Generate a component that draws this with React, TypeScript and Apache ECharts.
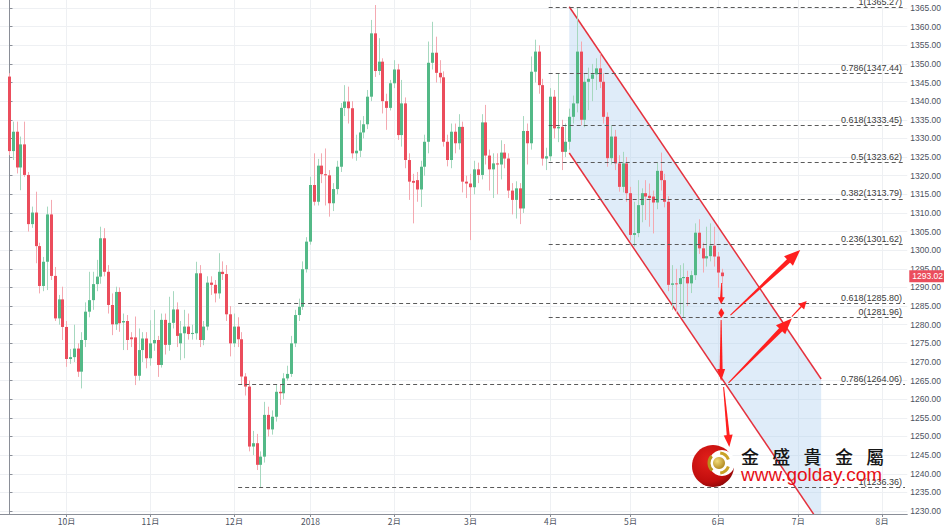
import React, { useEffect, useRef } from "react";
import * as echarts from "echarts";

// Daily XAUUSD candles [open, close, low, high], index 0 = 2017-09-11, last = 2018-06-04
const candles: number[][] = [
  [1346.6, 1326.6, 1325.5, 1347.5], [1326.6, 1331.8, 1324.2, 1334.5], [1331.8, 1322.2, 1320.6, 1334.5], [1322.2, 1328.4, 1316.1, 1330.5],
  [1328.4, 1320.2, 1319.7, 1334.5], [1320.2, 1307.0, 1305.0, 1321.0], [1307.0, 1310.1, 1306.0, 1311.7], [1310.1, 1301.1, 1296.5, 1315.7],
  [1301.1, 1290.4, 1288.4, 1302.0], [1290.4, 1296.9, 1289.0, 1298.2], [1296.9, 1309.6, 1289.3, 1311.7], [1309.6, 1293.1, 1292.0, 1313.5],
  [1293.1, 1281.7, 1281.0, 1295.5], [1281.7, 1286.8, 1280.0, 1288.0], [1286.8, 1279.4, 1275.9, 1290.2], [1279.4, 1270.8, 1268.7, 1281.0],
  [1270.8, 1271.3, 1269.5, 1273.5], [1271.3, 1273.6, 1270.0, 1280.0], [1273.6, 1267.4, 1266.0, 1275.0], [1267.4, 1275.9, 1262.9, 1278.0],
  [1275.9, 1283.5, 1274.0, 1286.0], [1283.5, 1286.6, 1282.0, 1294.2], [1286.6, 1290.9, 1284.0, 1294.2], [1290.9, 1292.9, 1289.0, 1297.4],
  [1292.9, 1303.2, 1291.0, 1306.3], [1303.2, 1294.2, 1293.0, 1305.9], [1294.2, 1285.3, 1283.0, 1296.0], [1285.3, 1280.1, 1277.2, 1288.4],
  [1280.1, 1288.8, 1278.6, 1290.2], [1288.8, 1280.4, 1278.1, 1290.0], [1280.6, 1281.0, 1273.2, 1283.0], [1281.0, 1275.9, 1273.2, 1282.6],
  [1276.6, 1276.1, 1274.0, 1278.0], [1276.6, 1266.3, 1263.8, 1282.2], [1266.3, 1273.2, 1265.0, 1279.0], [1273.2, 1276.3, 1270.0, 1278.0],
  [1276.3, 1271.0, 1268.3, 1278.0], [1271.0, 1275.0, 1269.0, 1281.2], [1275.0, 1275.9, 1273.0, 1284.0], [1275.9, 1269.2, 1266.0, 1277.0],
  [1269.2, 1281.3, 1268.5, 1283.0], [1281.3, 1274.6, 1272.0, 1283.0], [1274.6, 1280.5, 1273.0, 1287.5], [1280.5, 1284.1, 1279.0, 1289.0],
  [1284.1, 1277.0, 1274.0, 1286.0], [1275.0, 1277.7, 1270.5, 1281.0], [1277.7, 1279.5, 1271.0, 1284.0], [1279.5, 1277.5, 1276.0, 1283.0],
  [1277.5, 1277.8, 1276.0, 1280.0], [1277.7, 1293.8, 1276.0, 1296.9], [1293.8, 1275.9, 1274.0, 1296.0], [1275.9, 1279.5, 1274.5, 1281.0],
  [1279.5, 1291.3, 1278.5, 1293.0], [1291.3, 1290.7, 1288.0, 1293.0], [1290.7, 1288.4, 1286.0, 1292.0], [1288.4, 1294.2, 1287.0, 1299.2],
  [1294.2, 1293.6, 1292.0, 1297.0], [1293.6, 1282.8, 1281.0, 1296.0], [1282.8, 1275.0, 1271.5, 1285.0], [1275.0, 1279.5, 1274.0, 1283.0],
  [1279.5, 1276.1, 1274.0, 1282.0], [1276.1, 1266.1, 1263.9, 1278.0], [1266.1, 1263.4, 1261.0, 1267.0], [1263.4, 1247.3, 1246.0, 1265.0],
  [1247.3, 1248.2, 1245.0, 1251.5], [1248.2, 1242.4, 1241.0, 1250.7], [1242.4, 1244.6, 1236.36, 1246.0], [1244.6, 1255.8, 1243.0, 1259.3],
  [1255.8, 1251.9, 1250.0, 1258.0], [1251.9, 1255.3, 1250.5, 1257.0], [1255.3, 1262.0, 1254.0, 1264.0], [1262.0, 1261.6, 1258.5, 1264.0],
  [1261.6, 1265.6, 1260.0, 1267.0], [1265.6, 1266.8, 1265.0, 1269.0], [1266.8, 1275.0, 1266.0, 1277.0], [1275.0, 1282.6, 1274.0, 1284.0],
  [1282.6, 1284.8, 1281.0, 1287.0], [1284.8, 1294.9, 1284.0, 1297.0], [1294.9, 1302.3, 1294.0, 1303.5], [1302.3, 1317.5, 1301.5, 1319.7],
  [1317.5, 1313.0, 1312.0, 1326.0], [1313.0, 1322.7, 1312.0, 1324.5], [1322.7, 1320.4, 1318.0, 1326.0], [1320.4, 1320.1, 1312.0, 1327.3],
  [1320.1, 1312.6, 1309.0, 1321.5], [1312.6, 1316.4, 1310.5, 1318.0], [1316.4, 1322.4, 1315.0, 1324.0], [1322.4, 1338.2, 1321.0, 1339.5],
  [1338.2, 1339.9, 1336.0, 1344.3], [1339.9, 1338.1, 1334.0, 1343.9], [1338.1, 1326.0, 1324.6, 1340.0], [1326.0, 1326.7, 1324.0, 1331.0],
  [1326.7, 1331.6, 1325.0, 1334.9], [1331.6, 1333.8, 1330.0, 1336.0], [1333.8, 1341.2, 1332.5, 1343.0], [1341.2, 1358.2, 1340.0, 1361.8],
  [1358.2, 1348.1, 1346.5, 1365.8], [1348.1, 1350.6, 1347.0, 1356.9], [1350.6, 1340.0, 1336.7, 1351.5], [1340.0, 1338.2, 1332.3, 1342.0],
  [1338.2, 1344.8, 1337.5, 1345.7], [1344.8, 1348.5, 1343.5, 1351.0], [1348.5, 1330.9, 1329.6, 1350.0], [1330.9, 1339.4, 1327.8, 1345.7],
  [1339.4, 1324.2, 1322.0, 1341.0], [1324.2, 1318.4, 1313.5, 1326.0], [1318.6, 1318.1, 1307.2, 1320.5], [1318.8, 1316.3, 1313.0, 1321.0],
  [1316.3, 1322.4, 1311.6, 1324.0], [1322.4, 1329.1, 1320.0, 1331.0], [1329.1, 1350.3, 1326.0, 1356.0], [1350.3, 1353.0, 1348.5, 1361.3],
  [1353.0, 1347.6, 1345.0, 1357.3], [1347.6, 1346.4, 1344.8, 1351.0], [1346.4, 1329.1, 1327.8, 1348.0], [1329.1, 1324.2, 1322.5, 1331.0],
  [1324.2, 1331.8, 1322.0, 1334.0], [1331.8, 1328.7, 1326.0, 1334.0], [1328.7, 1333.1, 1327.0, 1336.5], [1333.1, 1318.4, 1315.5, 1334.5],
  [1318.4, 1317.9, 1314.0, 1320.0], [1317.9, 1316.9, 1302.7, 1320.5], [1316.9, 1321.7, 1315.0, 1324.0], [1321.7, 1320.2, 1318.0, 1323.5],
  [1320.2, 1334.3, 1319.0, 1336.5], [1334.3, 1325.4, 1323.0, 1339.0], [1325.4, 1321.7, 1316.0, 1327.0], [1321.7, 1323.3, 1314.0, 1326.0],
  [1323.3, 1323.0, 1315.0, 1326.0], [1323.0, 1326.2, 1319.0, 1329.5], [1326.2, 1324.6, 1322.0, 1328.5], [1324.6, 1316.0, 1314.0, 1326.0],
  [1316.0, 1313.5, 1309.6, 1318.0], [1313.5, 1316.6, 1308.5, 1318.5], [1316.6, 1311.2, 1307.0, 1318.0], [1311.2, 1332.0, 1310.0, 1336.0],
  [1332.0, 1328.7, 1323.0, 1334.0], [1328.7, 1347.9, 1327.0, 1352.0], [1347.9, 1353.3, 1345.0, 1356.5], [1353.3, 1344.3, 1342.0, 1355.0],
  [1344.3, 1324.6, 1322.7, 1346.0], [1324.6, 1325.2, 1321.5, 1327.5], [1325.2, 1341.2, 1324.0, 1343.5], [1341.2, 1332.7, 1330.0, 1343.0],
  [1332.7, 1333.1, 1329.0, 1347.5], [1333.1, 1326.4, 1321.5, 1335.0], [1326.4, 1329.1, 1325.0, 1334.0], [1329.1, 1335.8, 1327.0, 1338.0],
  [1335.8, 1339.4, 1334.0, 1341.5], [1339.4, 1353.3, 1337.0, 1365.27], [1353.3, 1335.0, 1333.5, 1356.0], [1335.0, 1345.2, 1333.0, 1347.5],
  [1345.2, 1346.0, 1337.6, 1349.0], [1346.0, 1347.2, 1340.0, 1350.0], [1347.2, 1348.8, 1343.0, 1351.5], [1348.8, 1345.2, 1343.5, 1352.8],
  [1345.2, 1335.8, 1334.0, 1347.5], [1335.8, 1324.7, 1322.4, 1337.0], [1324.7, 1330.5, 1323.0, 1333.5], [1330.5, 1323.3, 1321.5, 1332.3],
  [1323.3, 1317.0, 1315.7, 1325.5], [1317.0, 1323.3, 1315.5, 1326.4], [1323.3, 1315.3, 1313.0, 1325.0], [1315.3, 1304.1, 1302.6, 1317.0],
  [1304.1, 1304.6, 1301.0, 1313.0], [1304.6, 1312.1, 1303.5, 1318.8], [1312.1, 1315.3, 1307.5, 1316.6], [1315.3, 1314.4, 1308.1, 1318.8],
  [1314.6, 1314.0, 1306.3, 1317.9], [1314.4, 1312.8, 1304.5, 1316.0], [1312.8, 1321.3, 1311.0, 1323.5], [1321.3, 1318.8, 1316.0, 1326.2],
  [1318.8, 1313.0, 1311.5, 1320.5], [1313.0, 1290.7, 1289.0, 1314.5], [1290.7, 1291.1, 1284.0, 1296.0], [1291.1, 1290.9, 1283.0, 1295.0],
  [1290.9, 1292.5, 1282.8, 1296.0], [1292.5, 1292.8, 1281.96, 1296.5], [1292.8, 1291.1, 1285.0, 1294.5], [1291.1, 1293.3, 1288.5, 1294.5],
  [1293.3, 1304.7, 1292.0, 1307.2], [1304.7, 1300.5, 1299.0, 1308.3], [1300.5, 1297.8, 1294.0, 1302.0], [1297.8, 1298.4, 1295.6, 1306.3],
  [1298.4, 1301.2, 1297.0, 1307.2], [1301.2, 1298.3, 1295.6, 1306.3], [1298.3, 1294.0, 1289.9, 1299.5], [1294.0, 1293.02, 1291.0, 1295.0],
];

// first trading day of each month (candle index) and its label
const monthTickIndex = [15, 37, 59, 79, 101, 121, 142, 163, 186, 207, 229];
const monthLabels = ["10月", "11月", "12月", "2018", "2月", "3月", "4月", "5月", "6月", "7月", "8月"];

const priceTicks = [
  1230, 1235, 1240, 1245, 1250, 1255, 1260, 1265, 1270, 1275, 1280, 1285, 1290, 1295,
  1300, 1305, 1310, 1315, 1320, 1325, 1330, 1335, 1340, 1345, 1350, 1355, 1360, 1365,
];
const lastPrice = 1293.02;

// Fibonacci levels
const fibRatio = [1, 0.786, 0.618, 0.5, 0.382, 0.236, 0.618, 0, 0.786, 1];
const fibPrice = [1365.27, 1347.44, 1333.45, 1323.62, 1313.79, 1301.62, 1285.8, 1281.96, 1264.06, 1236.36];
const fibFrom = [141.5, 141.5, 141.5, 141.5, 141.5, 141.5, 60, 141.5, 60, 60];
const fibTo = 235;

// descending channel (x in candle index, y in price)
const channelX = [146.9, 213.0];
const channelUpper = [1365.35, 1265.43];
const channelLower = [1326.09, 1226.17];

// red arrows
const arrowFrom = [
  [186.9, 1291.2], [186.8, 1283.0], [186.8, 1283.0], [186.75, 1281.3],
  [187.4, 1263.3], [189.2, 1282.6], [188.7, 1264.4], [205.3, 1282.15],
];
const arrowTo = [
  [186.75, 1285.5], [186.8, 1284.5], [186.8, 1281.8], [186.75, 1264.9],
  [188.9, 1247.2], [207.5, 1300.05], [205.3, 1281.7], [209.2, 1286.37],
];

const X_MIN = -2.49;
const X_MAX = 235.6;
const Y_MIN = 1229.2;
const Y_MAX = 1367.15;

const UP = "#53b987";
const DOWN = "#eb4d5c";
const UP_WICK = "#a6d8bf";
const DOWN_WICK = "#f4a9b1";
const ARROW = "#ff1f1f";
// [head length, head width, tail width, shaft width at head]
const arrowShape = [
  [7, 7, 1, 2.5], [5, 6, 1, 1], [5, 6, 1, 1], [12, 8, 1, 3],
  [12, 9, 1, 3], [16, 13, 1, 4.5], [16, 13, 1, 4.5], [8, 8, 1, 1.5],
];

export default function App() {
  const ref = useRef<HTMLDivElement>(null);

  useEffect(() => {
    if (!ref.current) return;
    const chart = echarts.init(ref.current, undefined, { renderer: "svg" });

    const candleRows = candles.map((c, i) => [i, c[0], c[1], c[2], c[3]]);
    const channelRows = channelX.map((x, k) => [x, channelUpper[k], channelLower[k]]);
    const arrowRows = arrowFrom.map((f, k) => [f[0], f[1], arrowTo[k][0], arrowTo[k][1], k]);

    const option: any = {
      animation: false,
      backgroundColor: "#ffffff",
      textStyle: { fontFamily: "Liberation Sans, Arial, sans-serif" },
      grid: { left: 0, top: 0, width: 909, height: 514 },
      xAxis: {
        type: "value",
        min: X_MIN,
        max: X_MAX,
        axisLine: { show: true, lineStyle: { color: "#8a8e97", width: 1 } },
        axisTick: { show: true, customValues: monthTickIndex, length: 3, lineStyle: { color: "#8a8e97" } },
        axisLabel: {
          customValues: monthTickIndex,
          formatter: (v: number) => monthLabels[monthTickIndex.indexOf(Math.round(v))] ?? "",
          fontSize: 8.5,
          lineHeight: 9,
          color: "#4c525e",
          margin: 2,
          fontFamily: "Noto Sans CJK SC, sans-serif",
        },
        splitLine: { show: true, lineStyle: { color: "#eef0f3", width: 1 } },
      },
      yAxis: {
        type: "value",
        position: "right",
        min: Y_MIN,
        max: Y_MAX,
        axisLine: { show: true, lineStyle: { color: "#8a8e97", width: 1 } },
        axisTick: { show: true, customValues: priceTicks, length: 3, lineStyle: { color: "#8a8e97" } },
        axisLabel: {
          customValues: priceTicks,
          formatter: (v: number) => v.toFixed(2),
          fontSize: 8.5,
          color: "#4c525e",
          margin: 3,
        },
        splitLine: { show: true, lineStyle: { color: "#eef0f3", width: 1 } },
      },
      series: [
        {
          type: "custom",
          name: "channel",
          z: 1,
          clip: true,
          silent: true,
          data: channelRows,
          encode: { x: 0, y: [1, 2] },
          renderItem: (params: any, api: any) => {
            if (params.dataIndex !== 0) return null;
            const u0 = api.coord([channelX[0], channelUpper[0]]);
            const u1 = api.coord([channelX[1], channelUpper[1]]);
            const l0 = api.coord([channelX[0], channelLower[0]]);
            const l1 = api.coord([channelX[1], channelLower[1]]);
            return {
              type: "group",
              children: [
                {
                  type: "polygon",
                  shape: { points: [u0, u1, l1, l0] },
                  style: { fill: "rgba(170, 204, 238, 0.38)" },
                },
                {
                  type: "line",
                  z2: 5,
                  shape: { x1: u0[0], y1: u0[1], x2: u1[0], y2: u1[1] },
                  style: { stroke: "#e5323e", lineWidth: 1.5 },
                },
                {
                  type: "line",
                  z2: 5,
                  shape: { x1: l0[0], y1: l0[1], x2: l1[0], y2: l1[1] },
                  style: { stroke: "#e5323e", lineWidth: 1.5 },
                },
              ],
            };
          },
        },
        {
          type: "custom",
          name: "XAUUSD",
          z: 2,
          clip: true,
          silent: true,
          data: candleRows,
          encode: { x: 0, y: [1, 2, 3, 4] },
          renderItem: (params: any, api: any) => {
            const i = api.value(0);
            const o = api.value(1);
            const c = api.value(2);
            const l = api.value(3);
            const h = api.value(4);
            const pO = api.coord([i, o]);
            const pC = api.coord([i, c]);
            const pL = api.coord([i, l]);
            const pH = api.coord([i, h]);
            const up = c >= o;
            const bw = 3;
            const left = Math.round(pO[0] - bw / 2);
            const cx = left + bw / 2;
            const top = Math.min(pO[1], pC[1]);
            const hgt = Math.max(1, Math.abs(pO[1] - pC[1]));
            return {
              type: "group",
              children: [
                {
                  type: "line",
                  shape: { x1: cx, y1: pH[1], x2: cx, y2: pL[1] },
                  style: { stroke: up ? UP_WICK : DOWN_WICK, lineWidth: 1 },
                },
                {
                  type: "rect",
                  shape: { x: left, y: top, width: bw, height: hgt },
                  style: { fill: up ? UP : DOWN },
                },
              ],
            };
          },
        },
        {
          type: "line",
          name: "fib",
          data: [],
          z: 3,
          markLine: {
            silent: true,
            animation: false,
            symbol: ["none", "none"],
            lineStyle: { color: "#5a5a5a", type: [4, 3], width: 1 },
            label: {
              position: "insideEndTop",
              color: "#3a3a3a",
              fontSize: 9,
              distance: [3, 1],
            },
            emphasis: { disabled: true },
            data: fibPrice.map((p, k) => [
              { coord: [fibFrom[k], p], label: { formatter: `${fibRatio[k]}(${p.toFixed(2)})` } },
              { coord: [fibTo, p] },
            ]),
          },
        },
        {
          type: "line",
          name: "last",
          data: [],
          z: 6,
          markLine: {
            silent: true,
            animation: false,
            symbol: ["none", "none"],
            lineStyle: { color: "rgba(0,0,0,0)", width: 0 },
            label: {
              position: "end",
              distance: 2,
              formatter: lastPrice.toFixed(2),
              color: "#ffffff",
              fontSize: 8.5,
              backgroundColor: "#eb4d5c",
              padding: [2, 3, 1, 3],
            },
            data: [{ yAxis: lastPrice }],
          },
        },
        {
          type: "custom",
          name: "arrows",
          z: 5,
          clip: false,
          silent: true,
          data: arrowRows,
          encode: { x: [0, 2], y: [1, 3] },
          renderItem: (params: any, api: any) => {
            const k = api.value(4);
            const p1 = api.coord([api.value(0), api.value(1)]);
            const p2 = api.coord([api.value(2), api.value(3)]);
            const [hl, hw, tw, sw] = arrowShape[k];
            const dx = p2[0] - p1[0];
            const dy = p2[1] - p1[1];
            const len = Math.sqrt(dx * dx + dy * dy) || 1;
            const ux = dx / len;
            const uy = dy / len;
            const px = -uy;
            const py = ux;
            const bx = p2[0] - ux * hl;
            const by = p2[1] - uy * hl;
            const shaft = [
              [p1[0] + px * tw / 2, p1[1] + py * tw / 2],
              [bx + ux * 1 + px * sw / 2, by + uy * 1 + py * sw / 2],
              [bx + ux * 1 - px * sw / 2, by + uy * 1 - py * sw / 2],
              [p1[0] - px * tw / 2, p1[1] - py * tw / 2],
            ];
            const head = [
              [p2[0], p2[1]],
              [bx + px * hw / 2, by + py * hw / 2],
              [bx - px * hw / 2, by - py * hw / 2],
            ];
            return {
              type: "group",
              children: [
                { type: "polygon", shape: { points: shaft }, style: { fill: ARROW } },
                { type: "polygon", shape: { points: head }, style: { fill: ARROW } },
              ],
            };
          },
        },
      ],
      graphic: [
        {
          type: "circle",
          z: 100,
          shape: { cx: 713, cy: 466, r: 21 },
          style: {
            fill: new echarts.graphic.RadialGradient(0.4, 0.35, 0.75, [
              { offset: 0, color: "#e3201b" },
              { offset: 0.7, color: "#c10d0d" },
              { offset: 1, color: "#7a0606" },
            ]),
          },
        },
        { type: "circle", z: 101, shape: { cx: 722, cy: 463, r: 13 }, style: { fill: "#ffffff" } },
        {
          type: "arc",
          z: 102,
          shape: { cx: 719, cy: 463, r: 10, startAngle: -1.45, endAngle: -0.35 },
          style: { stroke: "#c9a227", lineWidth: 3, fill: "none" },
        },
        {
          type: "arc",
          z: 102,
          shape: { cx: 719, cy: 463, r: 10, startAngle: 0.35, endAngle: 1.45 },
          style: { stroke: "#c9a227", lineWidth: 3, fill: "none" },
        },
        {
          type: "arc",
          z: 102,
          shape: { cx: 719, cy: 463, r: 10, startAngle: 2.3, endAngle: 3.9 },
          style: { stroke: "#b8901c", lineWidth: 3, fill: "none" },
        },
        {
          type: "circle",
          z: 103,
          shape: { cx: 719, cy: 463, r: 6 },
          style: {
            fill: new echarts.graphic.RadialGradient(0.35, 0.35, 0.8, [
              { offset: 0, color: "#f3dc7a" },
              { offset: 1, color: "#a77d12" },
            ]),
          },
        },
        ...["金", "盛", "貴", "金", "屬"].map((ch, k) => ({
          type: "text",
          z: 104,
          x: 741 + k * 31.3,
          y: 447,
          style: {
            text: ch,
            fill: "#161616",
            font: '500 18px "Noto Sans CJK TC", sans-serif',
            align: "left",
            verticalAlign: "top",
          },
        })),
        {
          type: "text",
          z: 104,
          x: 741,
          y: 465,
          style: {
            text: "www.golday.com",
            fill: "#e60f17",
            font: '19px "Liberation Sans", Arial, sans-serif',
            align: "left",
            verticalAlign: "top",
          },
        },
      ],
    };

    chart.setOption(option);
    return () => {
      chart.dispose();
    };
  }, []);

  return (
    <div
      ref={ref}
      style={{ position: "fixed", left: 0, top: 0, width: 944, height: 525, background: "#fff" }}
    />
  );
}
